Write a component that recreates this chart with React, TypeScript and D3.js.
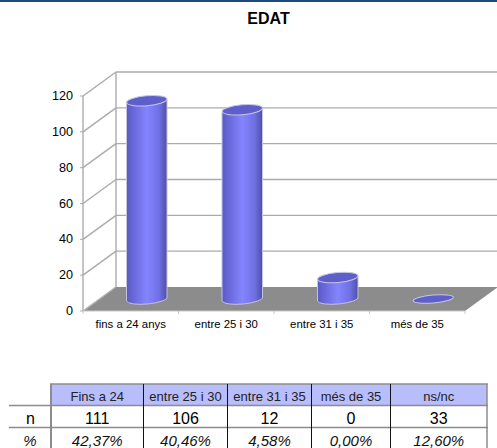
import React from "react";
import * as d3 from "d3";

const categories = ["fins a 24 anys", "entre 25 i 30", "entre 31 i 35", "més de 35"];
const values = [111, 106, 12, 0];
const yTicks = [0, 20, 40, 60, 80, 100, 120];
const tableHeaders = ["Fins a 24", "entre 25 i 30", "entre 31 i 35", "més de 35", "ns/nc"];
const tableN = ["111", "106", "12", "0", "33"];
const tablePct = ["42,37%", "40,46%", "4,58%", "0,00%", "12,60%"];
const tableEdges = [51, 143.5, 227.5, 311.5, 390.5, 487];

const W = 497, H = 448;
const FONT = "'Liberation Sans', Arial, sans-serif";
const depthX = 33, depthY = 24;
const frontLeft = 83, frontRight = 465;
const yFront = d3.scaleLinear().domain([0, 120]).range([311, 96]);
const yBack = (v: number) => yFront(v) - depthY;
const yBar = d3.scaleLinear().domain([0, 120]).range([299, 84.7]);
const xBand = d3.scaleBand<string>().domain(categories).range([frontLeft, frontRight]);
const barW = 40.5;
const GRID = "#ababab";

export default function App() {
  const base = yFront(0);
  const backR = frontRight + depthX;
  return (
    <svg width={W} height={H} style={{ position: "absolute", left: 0, top: 0, background: "#fff" }} fontFamily={FONT}>
      <defs>
        <linearGradient id="cyl" x1="0" x2="1" y1="0" y2="0">
          <stop offset="0" stopColor="#5a5ac4" />
          <stop offset="0.5" stopColor="#8484ff" />
          <stop offset="0.8" stopColor="#7070e4" />
          <stop offset="1" stopColor="#4f4fa8" />
        </linearGradient>
        <filter id="soft" x="-5%" y="-5%" width="110%" height="110%">
          <feGaussianBlur stdDeviation="0.35" />
        </filter>
      </defs>
      <rect x={0} y={0} width={W} height={2} fill="#1f497d" />
      <text x={268.5} y={24} textAnchor="middle" fontSize={16} fontWeight="bold" fill="#000">EDAT</text>

      <g filter="url(#soft)">
        <polygon
          points={`${frontLeft + 1},${base} ${frontLeft + depthX},${yBack(0)} ${backR},${yBack(0)} ${frontRight},${base}`}
          fill="#8c8c8c"
        />
        {yTicks.map((t) => (
          <g key={t}>
            {t > 0 && <line x1={frontLeft + depthX} x2={backR} y1={yBack(t)} y2={yBack(t)} stroke={GRID} strokeWidth={1.4} />}
            <line x1={frontLeft} x2={frontLeft + depthX} y1={yFront(t)} y2={yBack(t)} stroke={GRID} strokeWidth={1.4} />
            <line x1={frontLeft - 3} x2={frontLeft} y1={yFront(t)} y2={yFront(t)} stroke={GRID} />
          </g>
        ))}
        <line x1={frontLeft} x2={frontLeft} y1={yFront(0)} y2={yFront(120)} stroke={GRID} strokeWidth={1.4} />
        <line x1={frontLeft + depthX} x2={frontLeft + depthX} y1={yBack(0)} y2={yBack(120)} stroke={GRID} strokeWidth={1.4} />
        <line x1={frontLeft} x2={frontRight} y1={base} y2={base} stroke="#c8c8c8" />
        {[...categories.map((c) => xBand(c)!), frontRight].map((x, i) => (
          <line key={i} x1={x} x2={x} y1={base} y2={base + 3} stroke="#c8c8c8" />
        ))}

        {categories.map((c, i) => {
          const cx = xBand(c)! + xBand.bandwidth() / 2 + 16;
          const rx = barW / 2, ry = 5;
          const y0 = yBar(0), y1 = yBar(values[i]);
          const tilt = 2;
          const left = cx - rx, right = cx + rx;
          const side = `M${left},${y1 + tilt} L${left},${y0 + tilt} A${rx},${ry} -5 0 0 ${right},${y0 - tilt} L${right},${y1 - tilt} Z`;
          return (
            <g key={c}>
              {values[i] > 0 && <path d={side} fill="url(#cyl)" stroke="#c4c4de" strokeWidth={1} />}
              <ellipse
                cx={cx}
                cy={y1}
                rx={rx}
                ry={ry - (values[i] > 0 ? 0 : 1)}
                transform={`rotate(-5 ${cx} ${y1})`}
                fill="#5e5ecb"
                stroke="#c8c8e2"
                strokeWidth={1}
              />
            </g>
          );
        })}
      </g>

      {yTicks.map((t) => (
        <text key={t} x={73} y={yFront(t) + 4} textAnchor="end" fontSize={12.6} fill="#000">{t}</text>
      ))}
      {categories.map((c) => (
        <text key={c} x={xBand(c)! + xBand.bandwidth() / 2} y={328} textAnchor="middle" fontSize={11.4} fill="#000">{c}</text>
      ))}

      <rect x={51} y={384} width={436} height={21} fill="#b8bdfb" />
      <line x1={50} x2={488} y1={384} y2={384} stroke="#8c8c8c" strokeWidth={1.5} />
      <line x1={9} x2={488} y1={405.5} y2={405.5} stroke="#8c8c8c" strokeWidth={1.5} />
      <line x1={9} x2={488} y1={427.5} y2={427.5} stroke="#8c8c8c" strokeWidth={1.5} />
      {tableEdges.map((x, i) => (
        <line
          key={x}
          x1={x}
          x2={x}
          y1={384}
          y2={448}
          stroke={i === 0 || i === tableEdges.length - 1 ? "#8c8c8c" : "#111"}
          strokeWidth={i === 0 ? 2 : i === tableEdges.length - 1 ? 1.5 : 1}
        />
      ))}
      {tableHeaders.map((h, i) => {
        const cx = (tableEdges[i] + tableEdges[i + 1]) / 2;
        return (
          <g key={h}>
            <text x={cx} y={400.5} textAnchor="middle" fontSize={13} fill="#222">{h}</text>
            <text x={cx} y={423.5} textAnchor="middle" fontSize={16} fill="#000">{tableN[i]}</text>
            <text x={cx} y={446} textAnchor="middle" fontSize={15} fontStyle="italic" fill="#111">{tablePct[i]}</text>
          </g>
        );
      })}
      <text x={30.5} y={423.5} textAnchor="middle" fontSize={16} fill="#000">n</text>
      <text x={30} y={446} textAnchor="middle" fontSize={15} fontStyle="italic" fill="#111">%</text>
    </svg>
  );
}
